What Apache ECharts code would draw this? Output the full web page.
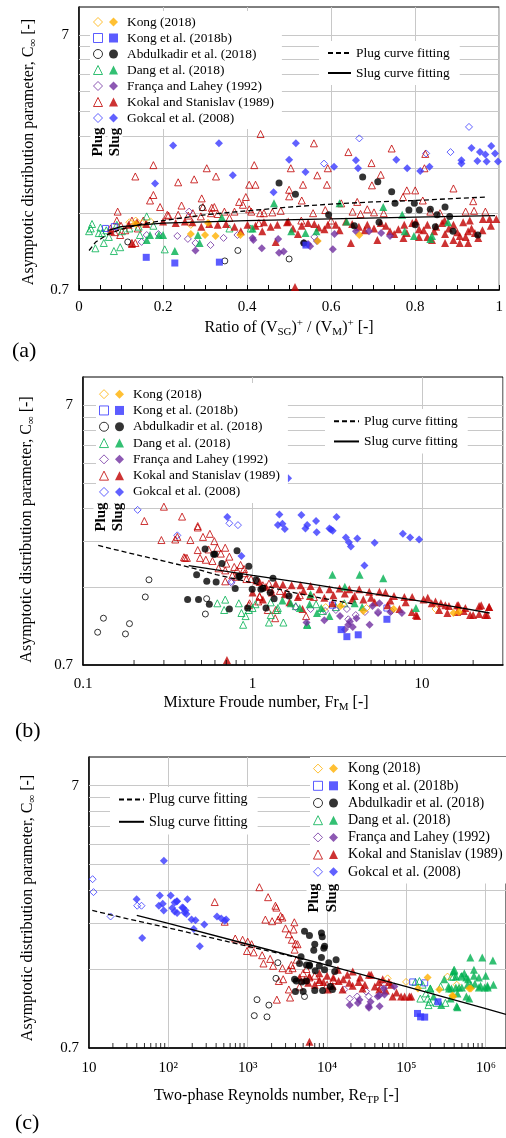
<!DOCTYPE html>
<html>
<head>
<meta charset="utf-8">
<title>Asymptotic distribution parameter</title>
<script src="https://cdn.jsdelivr.net/npm/echarts@6/dist/echarts.min.js"></script>
<style>
html, body { margin: 0; padding: 0; background: #fff; }
#main { width: 506px; height: 1138px; }
</style>
</head>
<body>
<div id="main"></div>
<script>
// ---- legend / style tables
var SETS = ['Kong (2018)', 'Kong et al. (2018b)', 'Abdulkadir et al. (2018)', 'Dang et al. (2018)',
            'França and Lahey (1992)', 'Kokal and Stanislav (1989)', 'Gokcal et al. (2008)'];
var CURVES = ['Plug curve fitting', 'Slug curve fitting'];
var SYMBOLS = ['diamond', 'rect', 'circle', 'triangle', 'diamond', 'triangle', 'diamond'];
var COLORS = ['#FFB000', '#3333FF', '#000000', '#00B050', '#7030A0', '#C00000', '#3939FF'];
var SIZES = [8, 7, 7, 8, 8, 8, 8];

// ---- tick values
var gridY = [1.4, 2.1, 2.8, 3.5, 4.2, 4.9, 5.6, 6.3, 7];
var yLabels = [0.7, 7];
var minorB = [0.2, 0.3, 0.4, 0.5, 0.6, 0.7, 0.8, 0.9, 2, 3, 4, 5, 6, 7, 8, 9, 20];
var minorC = [20, 30, 40, 50, 60, 70, 80, 90, 200, 300, 400, 500, 600, 700, 800, 900,
              2000, 3000, 4000, 5000, 6000, 7000, 8000, 9000, 20000, 30000, 40000, 50000, 60000, 70000, 80000, 90000,
              200000, 300000, 400000, 500000, 600000, 700000, 800000, 900000];
var labelsC = ['10', '10²', '10³', '10⁴', '10⁵', '10⁶'];

// ---- (a) ratio of (Vsg)+/(Vm)+
var aKongPlug = [[0.12,1.29],[0.135,1.31],[0.15,1.28],[0.17,1.30],[0.266,1.26]];
var aKongSlug = [[0.135,1.27],[0.266,1.16],[0.30,1.15],[0.307,1.28],[0.325,1.14],[0.384,1.15],[0.568,1.09],[0.667,1.15]];
var aKong2Plug = [[0.063,1.22],[0.084,1.24]];
var aKong2Slug = [[0.16,0.94],[0.228,0.893],[0.334,0.90],[0.54,1.05]];
var aAbdPlug = [[0.116,1.08],[0.293,1.47],[0.347,0.91],[0.378,1.0],[0.5,0.926]];
var aAbdSlug = [[0.476,1.84],[0.515,1.66],[0.675,1.94],[0.711,1.86],[0.744,1.70],[0.752,1.53],[0.798,1.53],[0.785,1.44],
  [0.81,1.44],[0.836,1.45],[0.871,1.48],[0.852,1.38],[0.882,1.36],[0.594,1.38],[0.655,1.25],[0.714,1.29],[0.848,1.24],
  [0.89,1.19],[0.949,1.15],[0.8,1.26],[0.535,1.07]];
var aDangPlug = [[0.031,1.27],[0.024,1.19],[0.055,1.17],[0.047,1.17],[0.039,1.02],[0.059,1.07],[0.083,0.995],[0.098,1.03],
  [0.071,1.13],[0.102,1.19],[0.145,1.15],[0.161,1.36],[0.142,1.24],[0.177,1.25],[0.204,1.01],[0.358,1.22],[0.409,1.22],
  [0.028,1.22],[0.051,1.23],[0.065,1.2],[0.09,1.26],[0.12,1.22]];
var aDangSlug = [[0.161,1.10],[0.169,1.15],[0.228,0.995],[0.283,1.15],[0.287,1.07],[0.34,1.35],[0.464,1.53],[0.19,1.15],
  [0.2,1.15],[0.413,1.22],[0.62,1.53],[0.724,1.48],[0.637,1.30],[0.565,1.19],[0.539,1.17],[0.775,1.19],[0.84,1.14],
  [0.505,1.19],[0.878,1.29],[0.769,1.38],[0.797,1.14],[0.836,1.11]];
var aFrPlug = [[0.161,1.15],[0.189,1.16],[0.149,1.08],[0.234,1.14],[0.259,1.11],[0.277,1.07],[0.313,1.05],[0.344,1.12],
  [0.377,1.15],[0.262,1.42],[0.56,1.13]];
var aFrSlug = [[0.277,1.0],[0.413,1.12],[0.415,1.10],[0.435,1.02],[0.474,1.11],[0.476,0.98],[0.487,0.99],[0.535,1.07],
  [0.545,1.06],[0.55,1.04],[0.608,1.16],[0.604,1.01],[0.659,1.19],[0.69,1.19],[0.719,1.17],[0.74,1.14],[0.566,1.09]];
var aKokPlug = [[0.177,2.16],[0.134,1.95],[0.236,1.85],[0.274,1.90],[0.304,2.1],[0.326,1.95],[0.432,2.86],[0.417,2.16],
  [0.405,1.81],[0.42,1.81],[0.177,1.65],[0.169,1.57],[0.193,1.48],[0.092,1.42],[0.244,1.50],[0.292,1.60],[0.295,1.48],
  [0.322,1.48],[0.346,1.42],[0.37,1.42],[0.381,1.55],[0.397,1.62],[0.405,1.45],[0.431,1.40],[0.21,1.38],[0.153,1.31],
  [0.126,1.31],[0.09,1.31],[0.271,1.40],[0.314,1.40],[0.358,1.34],[0.428,1.28],[0.126,1.07],[0.134,1.07],[0.098,1.15],
  [0.559,2.63],[0.641,2.43],[0.744,2.51],[0.696,2.2],[0.824,2.39],[0.822,2.1],[0.592,2.1],[0.504,2.1],[0.567,1.97],
  [0.59,1.81],[0.533,1.81],[0.718,1.98],[0.697,1.80],[0.5,1.73],[0.5,1.63],[0.53,1.57],[0.771,1.62],[0.78,1.72],
  [0.8,1.72],[0.891,1.75],[0.818,1.57],[0.938,1.56],[0.662,1.55],[0.624,1.53],[0.586,1.44],[0.557,1.40],[0.651,1.42],
  [0.686,1.45],[0.702,1.41],[0.725,1.40],[0.67,1.39],[0.836,1.42],[0.859,1.40],[0.92,1.42],[0.94,1.43],[0.967,1.42],
  [0.529,1.31],[0.6,1.31],[0.213,1.37],[0.236,1.38],[0.26,1.37],[0.29,1.36],[0.316,1.47],[0.33,1.39],[0.39,1.51],
  [0.41,1.42],[0.44,1.40],[0.46,1.41],[0.48,1.43],[0.075,1.22],[0.1,1.25],[0.11,1.2],[0.14,1.22],[0.085,1.18]];
var aKokSlug = [[0.126,1.06],[0.076,1.19],[0.118,1.26],[0.138,1.29],[0.2,1.30],[0.252,1.30],[0.291,1.24],[0.33,1.26],
  [0.37,1.24],[0.385,1.19],[0.401,1.26],[0.436,1.19],[0.456,1.24],[0.472,1.26],[0.468,1.08],[0.495,1.29],[0.498,1.30],
  [0.509,1.22],[0.521,1.16],[0.545,1.28],[0.56,1.27],[0.584,1.21],[0.611,1.26],[0.635,1.30],[0.647,1.07],[0.666,1.24],
  [0.686,1.26],[0.702,1.22],[0.718,1.28],[0.71,1.10],[0.74,1.19],[0.75,1.16],[0.774,1.26],[0.793,1.28],[0.809,1.21],
  [0.829,1.26],[0.845,1.19],[0.864,1.28],[0.84,1.10],[0.871,1.16],[0.891,1.10],[0.906,1.14],[0.926,1.19],[0.942,1.17],
  [0.961,1.33],[0.977,1.33],[0.993,1.33],[0.891,1.26],[0.914,1.29],[0.934,1.22],[0.906,1.07],[0.926,1.07],[0.871,1.07],
  [0.829,1.13],[0.809,1.13],[0.514,0.72],[0.592,1.26],[0.772,1.12],[0.802,1.30],[0.16,1.27],[0.23,1.28],[0.27,1.29],
  [0.31,1.27],[0.35,1.27],[0.42,1.25],[0.44,1.29],[0.53,1.25],[0.57,1.23],[0.62,1.2],[0.65,1.27],[0.68,1.2],[0.73,1.25],
  [0.76,1.21],[0.78,1.17],[0.82,1.2],[0.85,1.24],[0.88,1.22],[0.9,1.18],[0.92,1.13],[0.95,1.12],[0.96,1.2],[0.98,1.25],
  [0.87,1.31],[0.93,1.31]];
var aGokPlug = [[0.583,2.19],[0.667,2.75],[0.826,2.4],[0.884,2.43],[0.928,3.05]];
var aGokSlug = [[0.224,2.58],[0.333,2.63],[0.181,1.83],[0.366,1.97],[0.463,1.69],[0.5,2.27],[0.516,2.63],[0.539,2.03],
  [0.607,2.13],[0.659,2.26],[0.664,2.10],[0.755,2.27],[0.781,2.10],[0.812,2.05],[0.834,2.13],[0.91,2.26],[0.91,2.19],
  [0.934,2.52],[0.948,2.24],[0.954,2.43],[0.967,2.38],[0.97,2.23],[0.981,2.57],[0.99,2.40],[0.997,2.23]];
var aPlugFit = [[0.024,1.0],[0.04,1.08],[0.07,1.16],[0.1,1.21],[0.15,1.27],[0.2,1.31],[0.3,1.38],[0.4,1.43],[0.5,1.48],
  [0.6,1.52],[0.7,1.55],[0.8,1.57],[0.9,1.6],[0.97,1.62]];
var aSlugFit = [[0.07,1.2],[0.1,1.24],[0.2,1.28],[0.4,1.31],[0.6,1.33],[0.8,1.35],[0.99,1.37]];

// ---- (b) mixture Froude number
var bKongPlug = [[2.7,1.17],[3.4,1.2],[4.7,1.16],[12,1.15]];
var bKongSlug = [[3.3,1.18],[4.5,1.13],[6.8,1.15],[15.3,1.11],[16.5,1.12]];
var bKong2Plug = [[2.96,1.19],[6.2,1.16]];
var bKong2Slug = [[3.33,0.958],[3.6,0.90],[4.2,0.915],[6.2,1.05]];
var bAbdPlug = [[0.122,0.936],[0.132,1.06],[0.178,0.922],[0.188,1.01],[0.233,1.28],[0.245,1.49],[0.536,1.26],[0.527,1.10]];
var bAbdSlug = [[0.525,1.96],[0.59,1.87],[0.66,1.72],[0.81,1.93],[0.95,1.68],[0.468,1.56],[0.537,1.47],[0.61,1.46],
  [0.83,1.53],[0.79,1.38],[0.414,1.25],[0.48,1.25],[0.556,1.20],[0.73,1.15],[0.935,1.16],[0.995,1.37],[1.05,1.49],
  [1.15,1.38],[1.32,1.51],[1.34,1.26],[1.2,1.16],[1.27,1.33],[1.64,1.29],[0.6,1.87],[0.84,1.54],[1.12,1.37]];
var bDangPlug = [[0.62,1.21],[0.69,1.25],[0.68,1.14],[0.91,1.08],[0.88,1.0],[0.95,1.14],[1.0,1.16],[1.04,1.2],[1.28,1.09],
  [1.25,1.02],[1.52,1.02],[1.40,1.14],[1.28,1.22],[0.83,1.21],[0.86,1.11],[1.41,1.16],[2.37,1.2],[3.1,1.17],[3.48,1.21],
  [2.1,1.0],[1.8,1.18],[2.6,1.13]];
var bDangSlug = [[2.96,1.56],[4.28,1.56],[5.9,1.51],[3.5,1.40],[1.68,1.21],[2.2,1.31],[2.1,1.0],[2.54,1.16],[2.84,1.08],
  [4.0,1.21],[4.43,1.17],[9.2,1.16],[2.17,1.2],[2.4,1.11],[1.5,1.24],[1.9,1.16]];
var bFrPlug = [[0.75,1.45],[1.79,1.17],[2.68,1.13],[3.1,1.14],[3.6,1.15],[4.06,1.09],[4.6,1.12],[5.5,1.12],[6.6,1.13],
  [3.67,1.05],[2.2,1.15]];
var bFrSlug = [[2.08,1.02],[2.65,1.04],[3.28,1.08],[3.67,1.0],[3.75,1.03],[4.1,1.06],[4.9,1.0],[5.5,1.11],[6.5,1.12],
  [7.6,1.11],[5.1,1.18],[5.6,1.21],[3.9,0.98],[3.5,0.96]];
var bKokPlug = [[0.30,2.85],[0.23,2.51],[0.384,2.61],[0.475,2.4],[0.475,2.37],[0.29,2.12],[0.35,2.13],[0.36,2.18],
  [0.43,2.12],[0.51,2.18],[0.56,2.24],[0.595,2.1],[0.62,1.98],[0.475,1.94],[0.4,1.81],[0.41,1.81],[0.49,1.81],[0.53,1.78],
  [0.58,1.76],[0.69,1.98],[0.73,1.83],[0.63,1.65],[0.69,1.62],[0.78,1.67],[0.81,1.62],[0.89,1.64],[0.69,1.47],[0.76,1.55],
  [0.8,1.53],[0.92,1.5],[0.98,1.5],[1.06,1.48],[1.1,1.29],[1.08,1.23],[0.95,1.19],[1.36,1.06],[1.37,1.14],[1.28,1.37],
  [1.45,1.35],[1.6,1.33],[0.394,1.82],[2.07,1.08],[1.23,1.14],[0.96,1.21],[1.1,1.28],[0.65,1.88],[0.7,1.72],[0.85,1.7],
  [0.9,1.58],[1.15,1.42],[1.25,1.44],[1.9,1.3],[2.3,1.28],[0.55,1.95]];
var bKokSlug = [[1.1,1.46],[1.37,1.44],[1.51,1.43],[1.7,1.42],[1.92,1.42],[2.2,1.41],[2.48,1.37],[2.84,1.37],[3.26,1.38],
  [3.72,1.37],[4.26,1.37],[4.88,1.34],[5.6,1.34],[6.08,1.33],[6.83,1.29],[7.86,1.28],[8.74,1.28],[10.2,1.25],[11.4,1.21],
  [12.9,1.21],[14.4,1.18],[16.1,1.19],[18.0,1.16],[21.7,1.18],[24.9,1.17],[2.96,1.21],[3.89,1.26],[5.25,1.22],[6.25,1.19],
  [7.35,1.15],[8.7,1.12],[9.35,1.08],[12.6,1.14],[14.1,1.11],[16.1,1.12],[19.2,1.09],[21.7,1.10],[24.2,1.09],[1.3,1.33],
  [1.55,1.31],[1.85,1.28],[2.18,1.29],[2.65,1.27],[1.15,1.25],[1.65,1.22],[1.97,1.15],[0.706,0.731],[22.3,1.19],
  [24.8,1.17],[20,1.09],[23.6,1.09],[16.4,1.19],[17.6,1.13],[12,1.23],[13.7,1.19],[10.8,1.27],[9.2,1.09],[1.0,1.33],
  [1.2,1.4],[2.0,1.35],[3.0,1.3],[4.0,1.29],[5.0,1.27],[6.5,1.24],[8.0,1.22],[3.5,1.32],[4.5,1.25]];
var bGokPlug = [[0.21,2.77],[0.36,2.21],[0.73,2.46],[0.82,2.42],[0.75,1.47]];
var bGokSlug = [[1.62,3.67],[1.44,2.66],[1.41,2.42],[1.5,2.45],[1.55,2.34],[1.94,2.65],[2.05,2.35],[2.1,2.42],[2.37,2.51],
  [2.39,2.27],[2.84,2.35],[2.97,2.3],[2.9,2.33],[3.13,2.6],[3.55,2.17],[3.7,2.08],[3.8,2.0],[4.15,2.15],[5.25,2.07],
  [7.7,2.24],[8.5,2.17],[9.6,2.13],[0.71,2.6],[0.86,1.84],[4.57,1.69]];
var bPlugFit = [[0.123,2.02],[0.2,1.87],[0.3,1.76],[0.45,1.65],[0.61,1.56],[1,1.45],[1.65,1.34],[2.5,1.27],[4,1.2]];
var bSlugFit = [[0.42,1.69],[0.6,1.63],[1,1.55],[2,1.45],[3,1.39],[5,1.32],[10,1.23],[16,1.17],[25,1.11]];

// ---- (c) two-phase Reynolds number
var cKongPlug = [[58000,1.29],[99000,1.25],[330000,1.31],[430000,1.22]];
var cKongSlug = [[185000,1.30],[140000,1.18],[260000,1.17],[380000,1.11],[620000,1.18],[390000,1.10],[650000,1.18]];
var cKong2Plug = [[120000,1.25],[170000,1.24]];
var cKong2Slug = [[138000,0.948],[151000,0.92],[170000,0.918],[250000,1.05]];
var cAbdPlug = [[1310,1.07],[1850,1.02],[1210,0.93],[1750,0.92],[2400,1.48],[2270,1.29],[5200,1.10]];
var cAbdSlug = [[5200,1.95],[6000,1.88],[8500,1.92],[8700,1.86],[7000,1.74],[9300,1.71],[6800,1.65],[4700,1.56],
  [4500,1.47],[5500,1.45],[6000,1.44],[8500,1.55],[8000,1.44],[10500,1.48],[13000,1.52],[4100,1.26],[4800,1.25],
  [5500,1.26],[7000,1.16],[8800,1.16],[11700,1.17],[4000,1.15],[5000,1.15],[7100,1.38],[9300,1.39],[12500,1.37],
  [9100,1.68],[6000,1.45],[3900,1.28],[11000,1.2]];
var cDangPlug = [[146000,1.26],[200000,1.18],[185000,1.08],[190000,1.02],[310000,1.04],[390000,1.31],[490000,1.31],
  [400000,1.39],[150000,1.08],[176000,1.13],[195000,1.05],[240000,1.04],[160000,1.22],[130000,1.25],[370000,1.31],
  [270000,1.2]];
var cDangSlug = [[639000,1.55],[903000,1.55],[1230000,1.51],[400000,1.38],[420000,1.31],[500000,1.32],[570000,1.30],
  [300000,1.28],[340000,1.20],[370000,1.18],[420000,1.19],[500000,1.19],[600000,1.28],[650000,1.22],[730000,1.23],
  [820000,1.30],[860000,1.21],[970000,1.19],[1050000,1.21],[620000,1.08],[440000,1.0],[200000,1.18],[220000,1.10],
  [394000,1.37],[537000,1.35],[710000,1.32],[1000000,1.32],[1250000,1.22],[1060000,1.19],[820000,1.19],[590000,1.22],
  [460000,1.19],[345000,1.18],[440000,1.13],[570000,1.10],[360000,1.08],[430000,1.01],[275000,1.02],[710000,1.39]];
var cFrPlug = [[16500,1.17],[19300,1.08],[24000,1.10],[33400,1.10],[47000,1.17],[53000,1.22],[31000,1.15]];
var cFrSlug = [[19300,1.02],[24500,1.04],[25600,1.07],[33400,1.01],[35400,1.05],[46000,1.01],[53000,1.12],[43500,1.10],
  [70600,1.20],[33800,0.997],[45500,1.11],[52000,1.18]];
var cKokPlug = [[1403,2.87],[1808,2.63],[2236,2.44],[2300,2.4],[2600,2.23],[2740,2.2],[1670,2.16],[2030,2.13],[2420,2.16],
  [3000,2.0],[3300,1.9],[3600,1.81],[4000,1.75],[384,2.52],[513,2.12],[697,1.83],[862,1.81],[1000,1.78],[1120,1.74],
  [980,1.64],[1190,1.62],[1520,1.58],[1920,1.53],[1580,1.47],[2090,1.44],[2740,1.41],[3300,1.39],[2330,1.07],[3420,1.09],
  [3300,1.17],[2800,1.28],[2470,1.26],[3550,1.45],[3680,1.41],[4140,1.52],[3900,1.66],[4250,1.74],[3790,1.98],[3870,2.11],
  [5000,1.35],[6000,1.3],[8000,1.25],[4500,1.2],[10000,1.22],[5500,1.4],[7000,1.32],[12000,1.27]];
var cKokSlug = [[6000,0.74],[13700,1.39],[21100,1.37],[36000,1.33],[50300,1.28],[64100,1.22],[85700,1.10],[109000,1.10],
  [33800,1.33],[95000,1.10],[115000,1.10],[67000,1.10],[45500,1.17],[28000,1.18],[19000,1.24],[21000,1.21],[8000,1.35],
  [10000,1.32],[14000,1.26],[6000,1.31],[8000,1.27],[11800,1.21],[10200,1.17],[15700,1.17],[4500,1.3],[5200,1.27],
  [5800,1.24],[7000,1.22],[9000,1.25],[12000,1.3],[16000,1.28],[18000,1.33],[25000,1.25],[30000,1.22],[40000,1.2],
  [55000,1.16],[75000,1.14],[60000,1.25],[45000,1.25],[26000,1.3]];
var cGokPlug = [[11.1,3.08],[11.4,2.75],[18.7,2.22],[40.5,2.44],[45.9,2.44]];
var cGokSlug = [[87.8,3.62],[39.8,2.58],[78,2.67],[107,2.67],[127,2.53],[150,2.4],[160,2.3],[169,2.27],[174,2.58],
  [46.8,1.84],[76,2.44],[85,2.48],[87.5,2.34],[120,2.51],[129,2.54],[112,2.39],[120,2.32],[129,2.29],[154,2.39],
  [165,2.34],[196,2.16],[220,2.15],[209,1.99],[249,1.71],[284,2.07],[410,2.22],[464,2.18],[514,2.14],[535,2.16]];
var cPlugFit = [[11,2.34],[30,2.18],[100,2.01],[300,1.86],[1000,1.71],[2000,1.63],[5000,1.53]];
var cSlugFit = [[40,2.24],[100,2.09],[1000,1.74],[10000,1.45],[100000,1.2],[1000000,0.99],[1800000,0.94]];

var FONT = '"Liberation Serif", "Times New Roman", serif';

var panels = [
  {plug: [aKongPlug, aKong2Plug, aAbdPlug, aDangPlug, aFrPlug, aKokPlug, aGokPlug],
   slug: [aKongSlug, aKong2Slug, aAbdSlug, aDangSlug, aFrSlug, aKokSlug, aGokSlug],
   fit: [aPlugFit, aSlugFit]},
  {plug: [bKongPlug, bKong2Plug, bAbdPlug, bDangPlug, bFrPlug, bKokPlug, bGokPlug],
   slug: [bKongSlug, bKong2Slug, bAbdSlug, bDangSlug, bFrSlug, bKokSlug, bGokSlug],
   fit: [bPlugFit, bSlugFit]},
  {plug: [cKongPlug, cKong2Plug, cAbdPlug, cDangPlug, cFrPlug, cKokPlug, cGokPlug],
   slug: [cKongSlug, cKong2Slug, cAbdSlug, cDangSlug, cFrSlug, cKokSlug, cGokSlug],
   fit: [cPlugFit, cSlugFit]}
];

function rich(size) {
  return {
    n: {fontFamily: FONT, fontSize: size, color: '#000', lineHeight: 20},
    s: {fontFamily: FONT, fontSize: 11, color: '#000', lineHeight: 12, verticalAlign: 'bottom'},
    p: {fontFamily: FONT, fontSize: 11, color: '#000', lineHeight: 11, verticalAlign: 'top'}
  };
}

var series = [];
var drawOrder = [6, 5, 3, 4, 2, 0, 1];
panels.forEach(function (p, k) {
  // grid lines at 0.7 * n
  series.push({
    type: 'line', xAxisIndex: k, yAxisIndex: k, data: [], z: 1, silent: true,
    markLine: {
      z: 1, silent: true, symbol: ['none', 'none'], label: {show: false}, animation: false,
      lineStyle: {color: '#c8c8c8', width: 1, type: 'solid'},
      emphasis: {disabled: true},
      data: gridY.map(function (v) { return {yAxis: v}; })
    }
  });
  drawOrder.forEach(function (i) {
    series.push({
      type: 'scatter', name: SETS[i] + ' plug', xAxisIndex: k, yAxisIndex: k, data: p.plug[i],
      symbol: SYMBOLS[i], symbolSize: SIZES[i] - 1, silent: true, z: 2,
      itemStyle: {color: 'rgba(255,255,255,0)', borderColor: COLORS[i], borderWidth: 1}
    });
  });
  drawOrder.forEach(function (i) {
    series.push({
      type: 'scatter', name: SETS[i], xAxisIndex: k, yAxisIndex: k, data: p.slug[i],
      symbol: SYMBOLS[i], symbolSize: SIZES[i], silent: true, z: 3,
      itemStyle: {color: COLORS[i]}
    });
  });
  series.push({
    type: 'line', name: CURVES[0], xAxisIndex: k, yAxisIndex: k, data: p.fit[0], symbol: 'none',
    silent: true, z: 4, lineStyle: {color: '#000', width: 1.3, type: [5, 3]}, itemStyle: {color: '#000'}
  });
  series.push({
    type: 'line', name: CURVES[1], xAxisIndex: k, yAxisIndex: k, data: p.fit[1], symbol: 'none',
    silent: true, z: 4, lineStyle: {color: '#000', width: 1.3}, itemStyle: {color: '#000'}
  });
});
// log-axis minor ticks
[[1, minorB], [2, minorC]].forEach(function (m) {
  series.push({
    type: 'scatter', xAxisIndex: m[0], yAxisIndex: m[0], silent: true, clip: false, z: 6,
    data: m[1].map(function (v) { return [v, 0.7]; }),
    symbol: 'rect', symbolSize: [1, 5], symbolOffset: [0, -2.5], itemStyle: {color: '#000'}
  });
});

var yName = '{n|Asymptotic distribution parameter, C}{s|∞}{n| [-]}';
function yAxis(k, gap, shift) {
  return {
    type: 'log', gridIndex: k, min: 0.7, max: 9,
    name: yName, nameLocation: 'middle', nameGap: gap, nameRotate: 90,
    nameTextStyle: {rich: rich(16), padding: [0, shift, 0, 0]},
    axisLine: {show: true, lineStyle: {color: '#000', width: 1.5}},
    axisTick: {show: true, inside: true, length: 5, customValues: gridY, lineStyle: {color: '#000'}},
    axisLabel: {customValues: yLabels, fontFamily: FONT, fontSize: 15, color: '#000', margin: 10,
      formatter: function (v) { return String(Math.round(v * 10) / 10); }},
    splitLine: {show: false}
  };
}
var xBase = {
  nameLocation: 'middle',
  axisLine: {show: true, lineStyle: {color: '#000', width: 1.5}},
  splitLine: {show: true, lineStyle: {color: '#c8c8c8', width: 1}}
};
function xAxis(extra) { return Object.assign({}, xBase, extra); }

function legends(left, top, lh, fs, textPad, curveLeft, curveTop, curveGap, curveW) {
  var ts = {fontFamily: FONT, fontSize: fs, color: '#000', lineHeight: lh};
  return [
    {orient: 'vertical', left: left, top: top, itemWidth: 9, itemHeight: 9, itemGap: 0, selectedMode: false,
     padding: [3, 0, 3, 3], backgroundColor: '#fff', textStyle: ts, itemStyle: {borderWidth: 1},
     data: SETS.map(function (n) { return n + ' plug'; }), formatter: function () { return ' '; }},
    {orient: 'vertical', left: left + 19, top: top, itemWidth: 9, itemHeight: 9, itemGap: 0, selectedMode: false,
     padding: [3, 8, 3, 0], backgroundColor: '#fff',
     textStyle: Object.assign({padding: [0, 0, 0, textPad]}, ts), data: SETS.slice()},
    {orient: 'vertical', left: curveLeft, top: curveTop, itemWidth: curveW, itemHeight: 10, itemGap: curveGap,
     selectedMode: false, padding: [4, 10, 4, 8], backgroundColor: '#fff', textStyle: ts,
     itemStyle: {color: 'rgba(0,0,0,0)', borderWidth: 0, opacity: 0},
     data: CURVES.slice()}
  ];
}

var chart = echarts.init(document.getElementById('main'));
chart.setOption({
  animation: false,
  backgroundColor: '#fff',
  grid: [
    {left: 79, top: 7, width: 424, height: 283, show: true, borderColor: '#000', borderWidth: 1},
    {left: 83, top: 377, width: 420, height: 288, show: true, borderColor: '#000', borderWidth: 1},
    {left: 89, top: 757, width: 418, height: 291, show: true, borderColor: '#000', borderWidth: 1}
  ],
  xAxis: [
    xAxis({type: 'value', gridIndex: 0, min: 0, max: 1, interval: 0.2,
      name: '{n|Ratio of (V}{s|SG}{n|)}{p|+}{n| / (V}{s|M}{n|)}{p|+}{n| [-]}', nameGap: 28,
      nameTextStyle: {rich: rich(16)},
      axisTick: {show: true, inside: true, length: 5, lineStyle: {color: '#000'}},
      minorTick: {show: true, splitNumber: 4, length: 5, lineStyle: {color: '#000'}},
      axisLabel: {fontFamily: FONT, fontSize: 15, color: '#000', margin: 10,
        formatter: function (v) { return String(Math.round(v * 10) / 10); }}}),
    xAxis({type: 'log', gridIndex: 1, min: 0.1, max: 30,
      name: '{n|Mixture Froude number, Fr}{s|M}{n| [-]}', nameGap: 28,
      nameTextStyle: {rich: rich(16), padding: [0, 54, 0, 0]},
      axisTick: {show: false},
      axisLabel: {fontFamily: FONT, fontSize: 15, color: '#000', margin: 12, showMaxLabel: false,
        formatter: function (v) { return String(Math.round(v * 10) / 10); }}}),
    xAxis({type: 'log', gridIndex: 2, min: 10, max: 1800000,
      name: '{n|Two-phase Reynolds number, Re}{s|TP}{n| [-]}', nameGap: 38,
      nameTextStyle: {rich: rich(16), padding: [0, 42, 0, 0]},
      axisTick: {show: false},
      axisLabel: {fontFamily: FONT, fontSize: 15, color: '#000', margin: 13, showMaxLabel: false,
        formatter: function (v) { return labelsC[Math.round(Math.log10(v)) - 1] || ''; }}})
  ],
  yAxis: [yAxis(0, 40, 7), yAxis(1, 46, 17), yAxis(2, 51, 11)],
  legend: [].concat(
    legends(90, 11, 16, 13.4, 4, 319, 41, 4, 23),
    legends(96, 383, 16.3, 13.4, 4, 325, 409, 4, 25),
    legends(310, 757, 17.2, 14.1, 5, 110, 787, 5, 25)
  ),
  graphic: [
    {type: 'text', left: 12, top: 340, z: 10, style: {text: '(a)', font: '22px "Liberation Serif"', fill: '#000'}},
    {type: 'text', left: 15, top: 720, z: 10, style: {text: '(b)', font: '22px "Liberation Serif"', fill: '#000'}},
    {type: 'text', left: 15, top: 1112, z: 10, style: {text: '(c)', font: '22px "Liberation Serif"', fill: '#000'}},
    {type: 'text', x: 98, y: 142, rotation: Math.PI / 2, z: 10,
     style: {text: 'Plug', font: 'bold 15px "Liberation Serif"', fill: '#000', align: 'center', verticalAlign: 'middle', backgroundColor: '#fff'}},
    {type: 'text', x: 115, y: 142, rotation: Math.PI / 2, z: 10,
     style: {text: 'Slug', font: 'bold 15px "Liberation Serif"', fill: '#000', align: 'center', verticalAlign: 'middle', backgroundColor: '#fff'}},
    {type: 'text', x: 101, y: 517, rotation: Math.PI / 2, z: 10,
     style: {text: 'Plug', font: 'bold 15px "Liberation Serif"', fill: '#000', align: 'center', verticalAlign: 'middle', backgroundColor: '#fff'}},
    {type: 'text', x: 118, y: 517, rotation: Math.PI / 2, z: 10,
     style: {text: 'Slug', font: 'bold 15px "Liberation Serif"', fill: '#000', align: 'center', verticalAlign: 'middle', backgroundColor: '#fff'}},
    {type: 'text', x: 314, y: 898, rotation: Math.PI / 2, z: 10,
     style: {text: 'Plug', font: 'bold 15px "Liberation Serif"', fill: '#000', align: 'center', verticalAlign: 'middle', backgroundColor: '#fff'}},
    {type: 'text', x: 332, y: 898, rotation: Math.PI / 2, z: 10,
     style: {text: 'Slug', font: 'bold 15px "Liberation Serif"', fill: '#000', align: 'center', verticalAlign: 'middle', backgroundColor: '#fff'}}
  ],
  series: series
});
</script>
</body>
</html>
